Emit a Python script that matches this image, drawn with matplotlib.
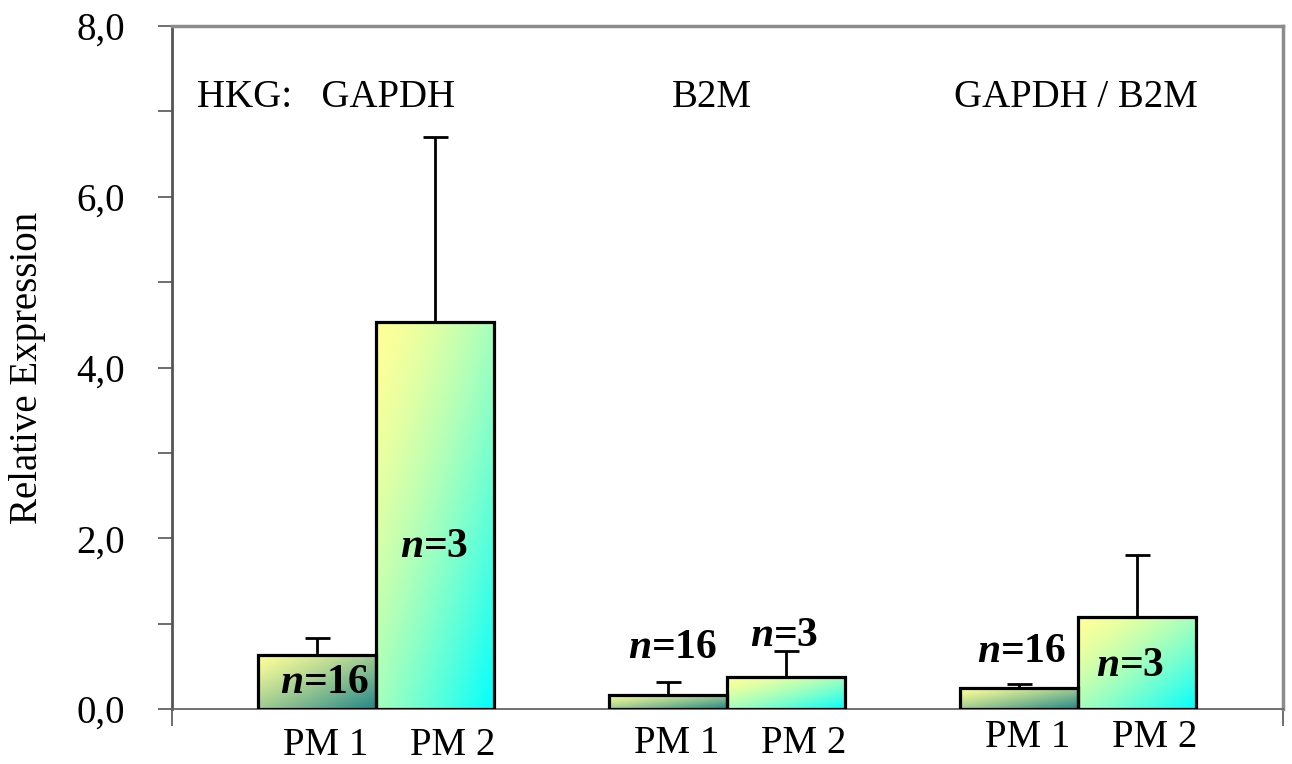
import numpy as np
import matplotlib
matplotlib.use("Agg")
import matplotlib.pyplot as plt
from matplotlib.ticker import MultipleLocator, FuncFormatter

plt.rcParams["font.family"] = ["Liberation Serif", "DejaVu Serif"]
plt.rcParams["mathtext.fontset"] = "custom"
plt.rcParams["mathtext.rm"] = "Liberation Serif"
plt.rcParams["mathtext.it"] = "Liberation Serif:italic"
plt.rcParams["mathtext.bf"] = "Liberation Serif:bold"
plt.rcParams["mathtext.bfit"] = "Liberation Serif:italic:bold"

groups = ["HKG:   GAPDH", "B2M", "GAPDH / B2M"]
series = ["PM 1", "PM 2"]
pm1 = [0.63, 0.165, 0.245]
pm1_err = [0.20, 0.15, 0.05]
pm2 = [4.53, 0.375, 1.08]
pm2_err = [2.17, 0.31, 0.72]
n_pm1 = [16, 16, 16]
n_pm2 = [3, 3, 3]

# label placements (data coords) for the n= annotations
n_pos_pm1 = [(-0.145, 0.31), (0.845, 0.72), (1.838, 0.67)]
n_pos_pm2 = [(0.167, 1.90), (1.163, 0.85), (2.148, 0.50)]

width = 0.336
x = np.arange(len(groups))

fig = plt.figure(figsize=(12.92, 7.64), dpi=100)
ax = fig.add_axes([172 / 1292, 55 / 764, 1111 / 1292, 683 / 764])


def grad_bar(ax, xc, h, c0, c1, gamma=1.0):
    bar = ax.bar(xc, h, width, color="none", edgecolor="black", lw=2.3, zorder=3)[0]
    n = 200
    u = np.linspace(0, 1, n)[None, :]
    v = np.linspace(0, 1, n)[:, None]
    t = (np.clip((u + v) / 2, 0, 1) ** gamma)[..., None]
    img = (1 - t) * np.array(c0) + t * np.array(c1)
    # row 0 (yellow side) goes on top
    im = ax.imshow(img, extent=(xc - width / 2, xc + width / 2, 0, h),
                   aspect="auto", zorder=2, interpolation="bilinear")
    im.set_clip_path(bar)
    return bar


yellow = (1.0, 1.0, 0.6)
teal = (0.13, 0.53, 0.54)
cyan = (0.0, 1.0, 1.0)

for i in range(len(groups)):
    x1 = x[i] - width / 2
    x2 = x[i] + width / 2
    grad_bar(ax, x1, pm1[i], yellow, teal, 1.2)
    grad_bar(ax, x2, pm2[i], yellow, cyan, 1.5)
    ax.errorbar([x1], [pm1[i]], yerr=[[0], [pm1_err[i]]], fmt="none",
                ecolor="black", elinewidth=2, capsize=9, capthick=2, zorder=2.5)
    ax.errorbar([x2], [pm2[i]], yerr=[[0], [pm2_err[i]]], fmt="none",
                ecolor="black", elinewidth=2, capsize=9, capthick=2, zorder=2.5)
    ax.text(*n_pos_pm1[i], r"$\mathbfit{n}$=%d" % n_pm1[i], fontsize=30,
            fontweight="bold", ha="center", va="center", zorder=5)
    ax.text(*n_pos_pm2[i], r"$\mathbfit{n}$=%d" % n_pm2[i], fontsize=30,
            fontweight="bold", ha="center", va="center", zorder=5)

# category labels under bars
label_dy = [0.43, 0.40, 0.33]
for i in range(len(groups)):
    ax.text(x[i] - width / 2 + 0.026, -label_dy[i], series[0], fontsize=28,
            ha="center", va="center", clip_on=False)
    ax.text(x[i] + width / 2 + 0.05, -label_dy[i], series[1], fontsize=28,
            ha="center", va="center", clip_on=False)

# group titles
for gx, g in zip([0.1386, 0.486, 0.8137], groups):
    ax.text(gx, 0.896, g, transform=ax.transAxes, fontsize=28,
            ha="center", va="center")

ax.set_xlim(-0.581, 2.584)
ax.set_ylim(0, 8)
ax.yaxis.set_major_locator(MultipleLocator(2))
ax.yaxis.set_minor_locator(MultipleLocator(1))
ax.yaxis.set_major_formatter(FuncFormatter(lambda v, p: f"{v:.1f}".replace(".", ",")))
ax.tick_params(axis="y", which="both", direction="out", length=10, width=1.2,
               color="#555555", labelsize=28, pad=24)
ax.set_xticks([-0.581, 2.584])
ax.set_xticklabels([])
ax.tick_params(axis="x", direction="out", length=12, width=1.2, color="#555555")
ax.set_ylabel("Relative Expression", fontsize=28, labelpad=22)

ax.spines["left"].set_color("#555555")
ax.spines["left"].set_linewidth(2.0)
ax.spines["bottom"].set_color("#666666")
ax.spines["bottom"].set_linewidth(1.3)
for s in ("top", "right"):
    ax.spines[s].set_color("#8c8c8c")
    ax.spines[s].set_linewidth(2.5)

fig.savefig("out.png", dpi=100)
